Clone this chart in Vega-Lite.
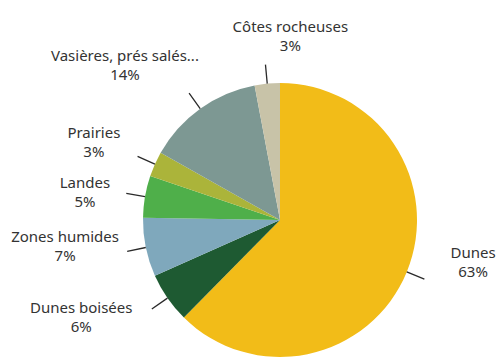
{
  "$schema": "https://vega.github.io/schema/vega-lite/v6.json",
  "width": 274,
  "height": 274,
  "autosize": "none",
  "padding": {"left": 143, "top": 83, "right": 83, "bottom": 1},
  "background": "white",
  "view": {"stroke": null},
  "config": {"text": {"font": "Noto Sans"}},
  "data": {
    "values": [
      {"o": 1, "name": "Dunes", "value": 63, "label": "Dunes\n63%"},
      {"o": 2, "name": "Dunes boisées", "value": 6, "label": "Dunes boisées\n6%"},
      {"o": 3, "name": "Zones humides", "value": 7, "label": "Zones humides\n7%"},
      {"o": 4, "name": "Landes", "value": 5, "label": "Landes\n5%"},
      {"o": 5, "name": "Prairies", "value": 3, "label": "Prairies\n3%"},
      {"o": 6, "name": "Vasières, prés salés...", "value": 14, "label": "Vasières, prés salés...\n14%"},
      {"o": 7, "name": "Côtes rocheuses", "value": 3, "label": "Côtes rocheuses\n3%"}
    ]
  },
  "layer": [
    {
      "mark": {"type": "arc"},
      "encoding": {
        "theta": {"field": "value", "type": "quantitative", "stack": true, "scale": {"domain": [0, 101]}},
        "order": {"field": "o", "type": "quantitative", "sort": "ascending"},
        "color": {
          "field": "name",
          "type": "nominal",
          "legend": null,
          "scale": {
            "domain": ["Dunes", "Dunes boisées", "Zones humides", "Landes", "Prairies", "Vasières, prés salés...", "Côtes rocheuses"],
            "range": ["#F2BC18", "#1E5A32", "#7FA8BC", "#4FAF4A", "#ABB43A", "#7D9893", "#C8C3A8"]
          }
        }
      }
    },
    {
      "transform": [
        {"stack": "value", "groupby": [], "sort": [{"field": "o", "order": "ascending"}], "as": ["v0", "v1"]},
        {"fold": ["v0", "v1"], "as": ["k", "v"]},
        {"aggregate": [{"op": "mean", "field": "v", "as": "mid"}], "groupby": ["name", "label"]}
      ],
      "layer": [
        {
          "mark": {"type": "arc", "radius": 156, "radius2": 137, "filled": false, "stroke": "#2a2a2a", "strokeWidth": 1.3},
          "encoding": {
            "theta": {"field": "mid", "type": "quantitative", "stack": null, "scale": {"domain": [0, 101]}},
            "theta2": {"field": "mid"}
          }
        },
        {
          "transform": [{"filter": "datum.name === 'Dunes'"}],
          "mark": {"type": "text", "radius": 200, "dx": 8, "dy": -42.5, "fontSize": 15, "lineBreak": "\n", "lineHeight": 19, "fill": "#333"},
          "encoding": {"theta": {"field": "mid", "type": "quantitative", "stack": null, "scale": {"domain": [0, 101]}}, "text": {"field": "label"}}
        },
        {
          "transform": [{"filter": "datum.name === 'Dunes boisées'"}],
          "mark": {"type": "text", "radius": 200, "dx": -34.5, "dy": -26.5, "fontSize": 15, "lineBreak": "\n", "lineHeight": 19, "fill": "#333"},
          "encoding": {"theta": {"field": "mid", "type": "quantitative", "stack": null, "scale": {"domain": [0, 101]}}, "text": {"field": "label"}}
        },
        {
          "transform": [{"filter": "datum.name === 'Zones humides'"}],
          "mark": {"type": "text", "radius": 200, "dx": -19, "dy": -23, "fontSize": 15, "lineBreak": "\n", "lineHeight": 19, "fill": "#333"},
          "encoding": {"theta": {"field": "mid", "type": "quantitative", "stack": null, "scale": {"domain": [0, 101]}}, "text": {"field": "label"}}
        },
        {
          "transform": [{"filter": "datum.name === 'Landes'"}],
          "mark": {"type": "text", "radius": 200, "dx": 2, "dy": -3, "fontSize": 15, "lineBreak": "\n", "lineHeight": 19, "fill": "#333"},
          "encoding": {"theta": {"field": "mid", "type": "quantitative", "stack": null, "scale": {"domain": [0, 101]}}, "text": {"field": "label"}}
        },
        {
          "transform": [{"filter": "datum.name === 'Prairies'"}],
          "mark": {"type": "text", "radius": 200, "dx": -3.5, "dy": -5.5, "fontSize": 15, "lineBreak": "\n", "lineHeight": 19, "fill": "#333"},
          "encoding": {"theta": {"field": "mid", "type": "quantitative", "stack": null, "scale": {"domain": [0, 101]}}, "text": {"field": "label"}}
        },
        {
          "transform": [{"filter": "datum.name === 'Vasières, prés salés...'"}],
          "mark": {"type": "text", "radius": 200, "dx": -38.5, "dy": -1.5, "fontSize": 15, "lineBreak": "\n", "lineHeight": 19, "fill": "#333"},
          "encoding": {"theta": {"field": "mid", "type": "quantitative", "stack": null, "scale": {"domain": [0, 101]}}, "text": {"field": "label"}}
        },
        {
          "transform": [{"filter": "datum.name === 'Côtes rocheuses'"}],
          "mark": {"type": "text", "radius": 200, "dx": 29, "dy": 6, "fontSize": 15, "lineBreak": "\n", "lineHeight": 19, "fill": "#333"},
          "encoding": {"theta": {"field": "mid", "type": "quantitative", "stack": null, "scale": {"domain": [0, 101]}}, "text": {"field": "label"}}
        }
      ]
    }
  ]
}
